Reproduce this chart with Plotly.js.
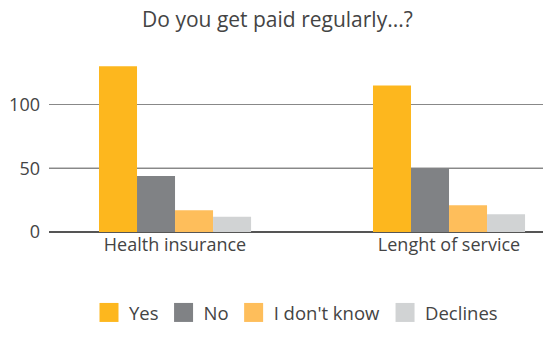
<!DOCTYPE html>
<html>
<head>
<meta charset="utf-8">
<script src="https://cdn.plot.ly/plotly-3.0.1.min.js"></script>
<style>html,body{margin:0;padding:0;background:#fff;}#chart{width:544px;height:339px;}</style>
</head>
<body>
<div id="chart"></div>
<script>
const categories = ["Health insurance", "Lenght of service"];
const seriesNames = ["Yes", "No", "I don't know", "Declines"];
const yesValues = [130, 115];
const noValues = [44, 50];
const dontKnowValues = [17, 21];
const declinesValues = [12, 14];
const colors = ["#FDB71E", "#808285", "#FEBE5B", "#D1D3D4"];
const tickVals = [0, 50, 100];
const tickText = ["0", "50", "100"];

const allValues = [yesValues, noValues, dontKnowValues, declinesValues];
const traces = allValues.map((vals, i) => ({
  type: "bar",
  name: seriesNames[i],
  x: categories,
  y: vals,
  marker: {color: colors[i]},
  hoverinfo: "none"
}));

const FONT = "'Open Sans', Lato, sans-serif";
const layout = {
  width: 544,
  height: 339,
  margin: {l: 49, r: 1, t: 60, b: 107},
  paper_bgcolor: "#fff",
  plot_bgcolor: "#fff",
  font: {family: FONT, color: "#444", size: 18},
  title: {text: "Do you get paid regularly...?", x: 0.51, xanchor: "center", y: 0.965, yanchor: "top",
          font: {family: FONT, size: 21, color: "#444"}},
  barmode: "group",
  bargap: 0.445,
  bargroupgap: 0,
  showlegend: true,
  legend: {orientation: "h", x: 0.5, xanchor: "center", y: -0.36, yanchor: "top",
           font: {family: FONT, size: 18.5, color: "#444"}, itemwidth: 30, traceorder: "normal"},
  xaxis: {
    type: "category",
    range: [-0.46, 1.343],
    showgrid: false,
    showline: false,
    ticks: "",
    tickfont: {family: FONT, size: 18, color: "#444"},
    fixedrange: true
  },
  yaxis: {
    range: [0, 135],
    tickvals: tickVals,
    ticktext: tickText,
    showgrid: true,
    gridcolor: "#888",
    gridwidth: 1.2,
    zeroline: true,
    zerolinecolor: "#555",
    zerolinewidth: 2,
    showline: false,
    ticks: "",
    ticklabelstandoff: 8,
    tickfont: {family: FONT, size: 18, color: "#444"},
    fixedrange: true
  },
  shapes: [{
    type: "line", xref: "paper", x0: 0, x1: 1, yref: "y", y0: tickVals[1], y1: tickVals[1],
    line: {color: "#222", width: 1.2}, layer: "below"
  }]
};

Plotly.newPlot("chart", traces, layout, {displayModeBar: false, staticPlot: true}).then(function () {
  document.querySelectorAll("#chart .legendpoints path").forEach(function (p) {
    p.setAttribute("d", "M9.5,9.5H-9.5V-9.5H9.5Z");
  });
});
</script>
</body>
</html>
